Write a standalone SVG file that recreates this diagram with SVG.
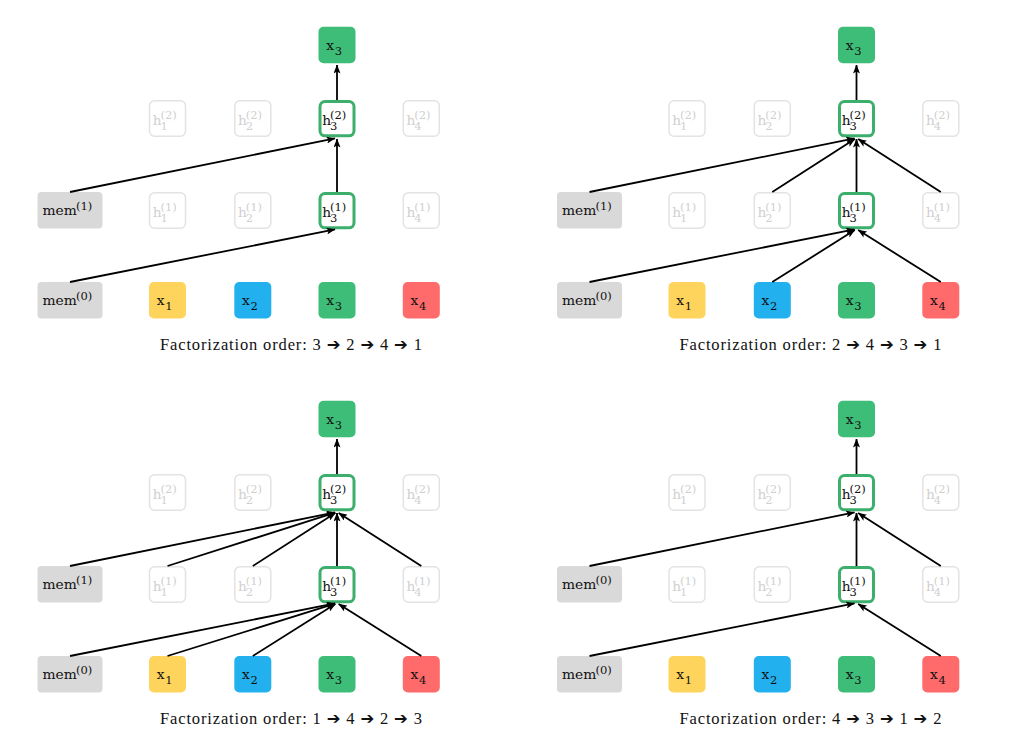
<svg xmlns="http://www.w3.org/2000/svg" width="1009" height="749" viewBox="0 0 1009 749">
<style>
.bg{fill:#fff}
.fade rect{fill:#fff;stroke:#e3e3e3;stroke-width:1.5}
.fade text{fill:#d0d0d0}
.act rect{fill:#fff;stroke:#3caf6d;stroke-width:3}
.mem rect{fill:#d9d9d9}
.x1 rect{fill:#ffd45c}
.x2 rect{fill:#22b1ee}
.x3 rect{fill:#3dbd77}
.x4 rect{fill:#ff6a6a}
.lbl{font-family:"DejaVu Serif",serif;font-size:13.8px;fill:#111}
.sm{font-size:11.5px}
.edge{stroke:#000;stroke-width:1.8;fill:none;marker-end:url(#arr)}
.cap{font-family:"Liberation Serif","DejaVu Sans",serif;font-size:16.5px;fill:#111}
</style>
<defs>
<marker id="arr" markerWidth="9" markerHeight="7" refX="8.5" refY="3.5" orient="auto" markerUnits="userSpaceOnUse"><path d="M0,0 L9,3.5 L0,7 L2,3.5 z" fill="#000"/></marker>
</defs>
<rect class="bg" x="0" y="0" width="1009" height="749"/>

<!-- ===== Panel TL ===== -->
<g id="panel-tl">
<g id="tl-out-x3" class="x3"><rect x="318.5" y="26.7" width="37" height="36.6" rx="5"/><text class="lbl" x="326.2" y="49.5">x<tspan class="sm" x="334.8" y="54.5">3</tspan></text></g>
<g id="tl-h1-2" class="fade"><rect x="149.5" y="100.75" width="36" height="35.5" rx="5"/><text class="lbl" x="152.7" y="124.5">h<tspan class="sm" x="160.5" y="130.3">1</tspan><tspan class="sm" x="160.5" y="119">(2)</tspan></text></g>
<g id="tl-h2-2" class="fade"><rect x="234.8" y="100.75" width="36" height="35.5" rx="5"/><text class="lbl" x="238" y="124.5">h<tspan class="sm" x="245.8" y="130.3">2</tspan><tspan class="sm" x="245.8" y="119">(2)</tspan></text></g>
<g id="tl-h3-2" class="act"><rect x="320" y="101.5" width="34" height="34.3" rx="5"/><text class="lbl" x="322.2" y="124.5">h<tspan class="sm" x="330" y="130.3">3</tspan><tspan class="sm" x="330" y="119">(2)</tspan></text></g>
<g id="tl-h4-2" class="fade"><rect x="403.3" y="100.75" width="36" height="35.5" rx="5"/><text class="lbl" x="406.5" y="124.5">h<tspan class="sm" x="414.3" y="130.3">4</tspan><tspan class="sm" x="414.3" y="119">(2)</tspan></text></g>
<g id="tl-mem1" class="mem"><rect x="37.5" y="192" width="65" height="36.5" rx="4"/><text class="lbl" x="42.5" y="214.7">mem<tspan class="sm" x="76" y="210">(1)</tspan></text></g>
<g id="tl-h1-1" class="fade"><rect x="149.5" y="192.75" width="36" height="35.5" rx="5"/><text class="lbl" x="152.7" y="216.5">h<tspan class="sm" x="160.5" y="222.3">1</tspan><tspan class="sm" x="160.5" y="211">(1)</tspan></text></g>
<g id="tl-h2-1" class="fade"><rect x="234.8" y="192.75" width="36" height="35.5" rx="5"/><text class="lbl" x="238" y="216.5">h<tspan class="sm" x="245.8" y="222.3">2</tspan><tspan class="sm" x="245.8" y="211">(1)</tspan></text></g>
<g id="tl-h3-1" class="act"><rect x="320" y="193.5" width="34" height="34.3" rx="5"/><text class="lbl" x="322.2" y="216.5">h<tspan class="sm" x="330" y="222.3">3</tspan><tspan class="sm" x="330" y="211">(1)</tspan></text></g>
<g id="tl-h4-1" class="fade"><rect x="403.3" y="192.75" width="36" height="35.5" rx="5"/><text class="lbl" x="406.5" y="216.5">h<tspan class="sm" x="414.3" y="222.3">4</tspan><tspan class="sm" x="414.3" y="211">(1)</tspan></text></g>
<g id="tl-mem0" class="mem"><rect x="37.5" y="282" width="65" height="36.5" rx="4"/><text class="lbl" x="42.5" y="304.7">mem<tspan class="sm" x="76" y="300">(0)</tspan></text></g>
<g id="tl-x1" class="x1"><rect x="149" y="282" width="37" height="36.5" rx="5"/><text class="lbl" x="156.7" y="304.7">x<tspan class="sm" x="165.3" y="309.7">1</tspan></text></g>
<g id="tl-x2" class="x2"><rect x="234.3" y="282" width="37" height="36.5" rx="5"/><text class="lbl" x="242" y="304.7">x<tspan class="sm" x="250.6" y="309.7">2</tspan></text></g>
<g id="tl-x3" class="x3"><rect x="318.5" y="282" width="37" height="36.5" rx="5"/><text class="lbl" x="326.2" y="304.7">x<tspan class="sm" x="334.8" y="309.7">3</tspan></text></g>
<g id="tl-x4" class="x4"><rect x="402.8" y="282" width="37" height="36.5" rx="5"/><text class="lbl" x="410.5" y="304.7">x<tspan class="sm" x="419.1" y="309.7">4</tspan></text></g>
<g id="tl-edges">
<path class="edge" d="M337,100 L337,65"/>
<path class="edge" d="M337,192 L337,139"/>
<path class="edge" d="M70,192 L335,138.4"/>
<path class="edge" d="M70,282 L335,229.4"/>
</g>
<text class="cap" x="160" y="349.5" textLength="262">Factorization order: 3 ➔ 2 ➔ 4 ➔ 1</text>
</g>

<!-- ===== Panel TR ===== -->
<g id="panel-tr" transform="translate(519.5,0)">
<g id="tr-out-x3" class="x3"><rect x="318.5" y="26.7" width="37" height="36.6" rx="5"/><text class="lbl" x="326.2" y="49.5">x<tspan class="sm" x="334.8" y="54.5">3</tspan></text></g>
<g id="tr-h1-2" class="fade"><rect x="149.5" y="100.75" width="36" height="35.5" rx="5"/><text class="lbl" x="152.7" y="124.5">h<tspan class="sm" x="160.5" y="130.3">1</tspan><tspan class="sm" x="160.5" y="119">(2)</tspan></text></g>
<g id="tr-h2-2" class="fade"><rect x="234.8" y="100.75" width="36" height="35.5" rx="5"/><text class="lbl" x="238" y="124.5">h<tspan class="sm" x="245.8" y="130.3">2</tspan><tspan class="sm" x="245.8" y="119">(2)</tspan></text></g>
<g id="tr-h3-2" class="act"><rect x="320" y="101.5" width="34" height="34.3" rx="5"/><text class="lbl" x="322.2" y="124.5">h<tspan class="sm" x="330" y="130.3">3</tspan><tspan class="sm" x="330" y="119">(2)</tspan></text></g>
<g id="tr-h4-2" class="fade"><rect x="403.3" y="100.75" width="36" height="35.5" rx="5"/><text class="lbl" x="406.5" y="124.5">h<tspan class="sm" x="414.3" y="130.3">4</tspan><tspan class="sm" x="414.3" y="119">(2)</tspan></text></g>
<g id="tr-mem1" class="mem"><rect x="37.5" y="192" width="65" height="36.5" rx="4"/><text class="lbl" x="42.5" y="214.7">mem<tspan class="sm" x="76" y="210">(1)</tspan></text></g>
<g id="tr-h1-1" class="fade"><rect x="149.5" y="192.75" width="36" height="35.5" rx="5"/><text class="lbl" x="152.7" y="216.5">h<tspan class="sm" x="160.5" y="222.3">1</tspan><tspan class="sm" x="160.5" y="211">(1)</tspan></text></g>
<g id="tr-h2-1" class="fade"><rect x="234.8" y="192.75" width="36" height="35.5" rx="5"/><text class="lbl" x="238" y="216.5">h<tspan class="sm" x="245.8" y="222.3">2</tspan><tspan class="sm" x="245.8" y="211">(1)</tspan></text></g>
<g id="tr-h3-1" class="act"><rect x="320" y="193.5" width="34" height="34.3" rx="5"/><text class="lbl" x="322.2" y="216.5">h<tspan class="sm" x="330" y="222.3">3</tspan><tspan class="sm" x="330" y="211">(1)</tspan></text></g>
<g id="tr-h4-1" class="fade"><rect x="403.3" y="192.75" width="36" height="35.5" rx="5"/><text class="lbl" x="406.5" y="216.5">h<tspan class="sm" x="414.3" y="222.3">4</tspan><tspan class="sm" x="414.3" y="211">(1)</tspan></text></g>
<g id="tr-mem0" class="mem"><rect x="37.5" y="282" width="65" height="36.5" rx="4"/><text class="lbl" x="42.5" y="304.7">mem<tspan class="sm" x="76" y="300">(0)</tspan></text></g>
<g id="tr-x1" class="x1"><rect x="149" y="282" width="37" height="36.5" rx="5"/><text class="lbl" x="156.7" y="304.7">x<tspan class="sm" x="165.3" y="309.7">1</tspan></text></g>
<g id="tr-x2" class="x2"><rect x="234.3" y="282" width="37" height="36.5" rx="5"/><text class="lbl" x="242" y="304.7">x<tspan class="sm" x="250.6" y="309.7">2</tspan></text></g>
<g id="tr-x3" class="x3"><rect x="318.5" y="282" width="37" height="36.5" rx="5"/><text class="lbl" x="326.2" y="304.7">x<tspan class="sm" x="334.8" y="309.7">3</tspan></text></g>
<g id="tr-x4" class="x4"><rect x="402.8" y="282" width="37" height="36.5" rx="5"/><text class="lbl" x="410.5" y="304.7">x<tspan class="sm" x="419.1" y="309.7">4</tspan></text></g>
<g id="tr-edges">
<path class="edge" d="M337,100 L337,65"/>
<path class="edge" d="M337,192 L337,139"/>
<path class="edge" d="M70,192 L335,138.4"/>
<path class="edge" d="M252.8,192 L335.3,139.1"/>
<path class="edge" d="M421.3,192 L338.7,139.1"/>
<path class="edge" d="M70,282 L335,229.4"/>
<path class="edge" d="M252.8,282 L335.3,230.1"/>
<path class="edge" d="M421.3,282 L338.7,230.1"/>
</g>
<text class="cap" x="160" y="349.5" textLength="262">Factorization order: 2 ➔ 4 ➔ 3 ➔ 1</text>
</g>

<!-- ===== Panel BL ===== -->
<g id="panel-bl" transform="translate(0,374)">
<g id="bl-out-x3" class="x3"><rect x="318.5" y="26.7" width="37" height="36.6" rx="5"/><text class="lbl" x="326.2" y="49.5">x<tspan class="sm" x="334.8" y="54.5">3</tspan></text></g>
<g id="bl-h1-2" class="fade"><rect x="149.5" y="100.75" width="36" height="35.5" rx="5"/><text class="lbl" x="152.7" y="124.5">h<tspan class="sm" x="160.5" y="130.3">1</tspan><tspan class="sm" x="160.5" y="119">(2)</tspan></text></g>
<g id="bl-h2-2" class="fade"><rect x="234.8" y="100.75" width="36" height="35.5" rx="5"/><text class="lbl" x="238" y="124.5">h<tspan class="sm" x="245.8" y="130.3">2</tspan><tspan class="sm" x="245.8" y="119">(2)</tspan></text></g>
<g id="bl-h3-2" class="act"><rect x="320" y="101.5" width="34" height="34.3" rx="5"/><text class="lbl" x="322.2" y="124.5">h<tspan class="sm" x="330" y="130.3">3</tspan><tspan class="sm" x="330" y="119">(2)</tspan></text></g>
<g id="bl-h4-2" class="fade"><rect x="403.3" y="100.75" width="36" height="35.5" rx="5"/><text class="lbl" x="406.5" y="124.5">h<tspan class="sm" x="414.3" y="130.3">4</tspan><tspan class="sm" x="414.3" y="119">(2)</tspan></text></g>
<g id="bl-mem1" class="mem"><rect x="37.5" y="192" width="65" height="36.5" rx="4"/><text class="lbl" x="42.5" y="214.7">mem<tspan class="sm" x="76" y="210">(1)</tspan></text></g>
<g id="bl-h1-1" class="fade"><rect x="149.5" y="192.75" width="36" height="35.5" rx="5"/><text class="lbl" x="152.7" y="216.5">h<tspan class="sm" x="160.5" y="222.3">1</tspan><tspan class="sm" x="160.5" y="211">(1)</tspan></text></g>
<g id="bl-h2-1" class="fade"><rect x="234.8" y="192.75" width="36" height="35.5" rx="5"/><text class="lbl" x="238" y="216.5">h<tspan class="sm" x="245.8" y="222.3">2</tspan><tspan class="sm" x="245.8" y="211">(1)</tspan></text></g>
<g id="bl-h3-1" class="act"><rect x="320" y="193.5" width="34" height="34.3" rx="5"/><text class="lbl" x="322.2" y="216.5">h<tspan class="sm" x="330" y="222.3">3</tspan><tspan class="sm" x="330" y="211">(1)</tspan></text></g>
<g id="bl-h4-1" class="fade"><rect x="403.3" y="192.75" width="36" height="35.5" rx="5"/><text class="lbl" x="406.5" y="216.5">h<tspan class="sm" x="414.3" y="222.3">4</tspan><tspan class="sm" x="414.3" y="211">(1)</tspan></text></g>
<g id="bl-mem0" class="mem"><rect x="37.5" y="282" width="65" height="36.5" rx="4"/><text class="lbl" x="42.5" y="304.7">mem<tspan class="sm" x="76" y="300">(0)</tspan></text></g>
<g id="bl-x1" class="x1"><rect x="149" y="282" width="37" height="36.5" rx="5"/><text class="lbl" x="156.7" y="304.7">x<tspan class="sm" x="165.3" y="309.7">1</tspan></text></g>
<g id="bl-x2" class="x2"><rect x="234.3" y="282" width="37" height="36.5" rx="5"/><text class="lbl" x="242" y="304.7">x<tspan class="sm" x="250.6" y="309.7">2</tspan></text></g>
<g id="bl-x3" class="x3"><rect x="318.5" y="282" width="37" height="36.5" rx="5"/><text class="lbl" x="326.2" y="304.7">x<tspan class="sm" x="334.8" y="309.7">3</tspan></text></g>
<g id="bl-x4" class="x4"><rect x="402.8" y="282" width="37" height="36.5" rx="5"/><text class="lbl" x="410.5" y="304.7">x<tspan class="sm" x="419.1" y="309.7">4</tspan></text></g>
<g id="bl-edges">
<path class="edge" d="M337,100 L337,65"/>
<path class="edge" d="M337,192 L337,139"/>
<path class="edge" d="M70,192 L335,138.4"/>
<path class="edge" d="M167.5,192 L335.1,138.6"/>
<path class="edge" d="M252.8,192 L335.3,139.1"/>
<path class="edge" d="M421.3,192 L338.7,139.1"/>
<path class="edge" d="M70,282 L335,229.4"/>
<path class="edge" d="M167.5,282 L335.1,229.6"/>
<path class="edge" d="M252.8,282 L335.3,230.1"/>
<path class="edge" d="M421.3,282 L338.7,230.1"/>
</g>
<text class="cap" x="160" y="349.5" textLength="262">Factorization order: 1 ➔ 4 ➔ 2 ➔ 3</text>
</g>

<!-- ===== Panel BR ===== -->
<g id="panel-br" transform="translate(519.5,374)">
<g id="br-out-x3" class="x3"><rect x="318.5" y="26.7" width="37" height="36.6" rx="5"/><text class="lbl" x="326.2" y="49.5">x<tspan class="sm" x="334.8" y="54.5">3</tspan></text></g>
<g id="br-h1-2" class="fade"><rect x="149.5" y="100.75" width="36" height="35.5" rx="5"/><text class="lbl" x="152.7" y="124.5">h<tspan class="sm" x="160.5" y="130.3">1</tspan><tspan class="sm" x="160.5" y="119">(2)</tspan></text></g>
<g id="br-h2-2" class="fade"><rect x="234.8" y="100.75" width="36" height="35.5" rx="5"/><text class="lbl" x="238" y="124.5">h<tspan class="sm" x="245.8" y="130.3">2</tspan><tspan class="sm" x="245.8" y="119">(2)</tspan></text></g>
<g id="br-h3-2" class="act"><rect x="320" y="101.5" width="34" height="34.3" rx="5"/><text class="lbl" x="322.2" y="124.5">h<tspan class="sm" x="330" y="130.3">3</tspan><tspan class="sm" x="330" y="119">(2)</tspan></text></g>
<g id="br-h4-2" class="fade"><rect x="403.3" y="100.75" width="36" height="35.5" rx="5"/><text class="lbl" x="406.5" y="124.5">h<tspan class="sm" x="414.3" y="130.3">4</tspan><tspan class="sm" x="414.3" y="119">(2)</tspan></text></g>
<g id="br-mem0-mid" class="mem"><rect x="37.5" y="192" width="65" height="36.5" rx="4"/><text class="lbl" x="42.5" y="214.7">mem<tspan class="sm" x="76" y="210">(0)</tspan></text></g>
<g id="br-h1-1" class="fade"><rect x="149.5" y="192.75" width="36" height="35.5" rx="5"/><text class="lbl" x="152.7" y="216.5">h<tspan class="sm" x="160.5" y="222.3">1</tspan><tspan class="sm" x="160.5" y="211">(1)</tspan></text></g>
<g id="br-h2-1" class="fade"><rect x="234.8" y="192.75" width="36" height="35.5" rx="5"/><text class="lbl" x="238" y="216.5">h<tspan class="sm" x="245.8" y="222.3">2</tspan><tspan class="sm" x="245.8" y="211">(1)</tspan></text></g>
<g id="br-h3-1" class="act"><rect x="320" y="193.5" width="34" height="34.3" rx="5"/><text class="lbl" x="322.2" y="216.5">h<tspan class="sm" x="330" y="222.3">3</tspan><tspan class="sm" x="330" y="211">(1)</tspan></text></g>
<g id="br-h4-1" class="fade"><rect x="403.3" y="192.75" width="36" height="35.5" rx="5"/><text class="lbl" x="406.5" y="216.5">h<tspan class="sm" x="414.3" y="222.3">4</tspan><tspan class="sm" x="414.3" y="211">(1)</tspan></text></g>
<g id="br-mem0" class="mem"><rect x="37.5" y="282" width="65" height="36.5" rx="4"/><text class="lbl" x="42.5" y="304.7">mem<tspan class="sm" x="76" y="300">(0)</tspan></text></g>
<g id="br-x1" class="x1"><rect x="149" y="282" width="37" height="36.5" rx="5"/><text class="lbl" x="156.7" y="304.7">x<tspan class="sm" x="165.3" y="309.7">1</tspan></text></g>
<g id="br-x2" class="x2"><rect x="234.3" y="282" width="37" height="36.5" rx="5"/><text class="lbl" x="242" y="304.7">x<tspan class="sm" x="250.6" y="309.7">2</tspan></text></g>
<g id="br-x3" class="x3"><rect x="318.5" y="282" width="37" height="36.5" rx="5"/><text class="lbl" x="326.2" y="304.7">x<tspan class="sm" x="334.8" y="309.7">3</tspan></text></g>
<g id="br-x4" class="x4"><rect x="402.8" y="282" width="37" height="36.5" rx="5"/><text class="lbl" x="410.5" y="304.7">x<tspan class="sm" x="419.1" y="309.7">4</tspan></text></g>
<g id="br-edges">
<path class="edge" d="M337,100 L337,65"/>
<path class="edge" d="M337,192 L337,139"/>
<path class="edge" d="M70,192 L335,138.4"/>
<path class="edge" d="M421.3,192 L338.7,139.1"/>
<path class="edge" d="M70,282 L335,229.4"/>
<path class="edge" d="M421.3,282 L338.7,230.1"/>
</g>
<text class="cap" x="160" y="349.5" textLength="262">Factorization order: 4 ➔ 3 ➔ 1 ➔ 2</text>
</g>
</svg>
